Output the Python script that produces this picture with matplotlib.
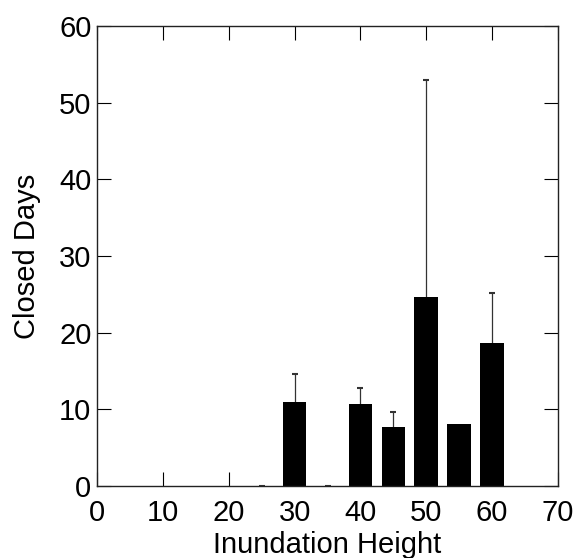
import matplotlib
matplotlib.use("Agg")
import matplotlib.pyplot as plt

heights = [25, 30, 35, 40, 45, 50, 55, 60]
closed_days = [0, 10.9, 0, 10.65, 7.75, 24.6, 8.1, 18.7]
upper_err = [0, 3.7, 0, 2.15, 1.9, 28.4, 0, 6.5]
x_ticks = [0, 10, 20, 30, 40, 50, 60, 70]
y_ticks = [0, 10, 20, 30, 40, 50, 60]

plt.rcParams['font.family'] = ['Liberation Sans', 'DejaVu Sans']

fig = plt.figure(figsize=(5.77, 5.58), dpi=100)
ax = fig.add_axes([97/577, 72/558, (558-97)/577, (486-26)/558])

ax.bar(heights, closed_days, width=3.6, color='black', zorder=2)
_, caps, _ = ax.errorbar(heights, closed_days,
                         yerr=[[0]*len(upper_err), upper_err],
                         fmt='none', ecolor='#333333', elinewidth=0.9,
                         capsize=2.5, capthick=1.5, zorder=1)
# lower caps only where they are not on top of a bar
lower_idx = [i for i, v in enumerate(closed_days) if v == 0]
caps[0].set_markevery(lower_idx)
upper_idx = [i for i, e in enumerate(upper_err) if e > 0]
caps[1].set_markevery(upper_idx)

ax.set_xlim(0, 70)
ax.set_ylim(0, 60)
ax.set_xticks(x_ticks)
ax.set_yticks(y_ticks)
ax.tick_params(direction='in', length=10, width=0.8, top=True, right=True,
               labelsize=21, color='black')
ax.tick_params(axis='x', pad=9.5)
ax.tick_params(axis='y', pad=4)
for s in ax.spines.values():
    s.set_linewidth(1.0)
    s.set_color('#222222')

ax.set_xlabel('Inundation Height', fontsize=21, labelpad=3)
ax.set_ylabel('Closed Days', fontsize=21, labelpad=13)

fig.savefig('out.png', dpi=100)
